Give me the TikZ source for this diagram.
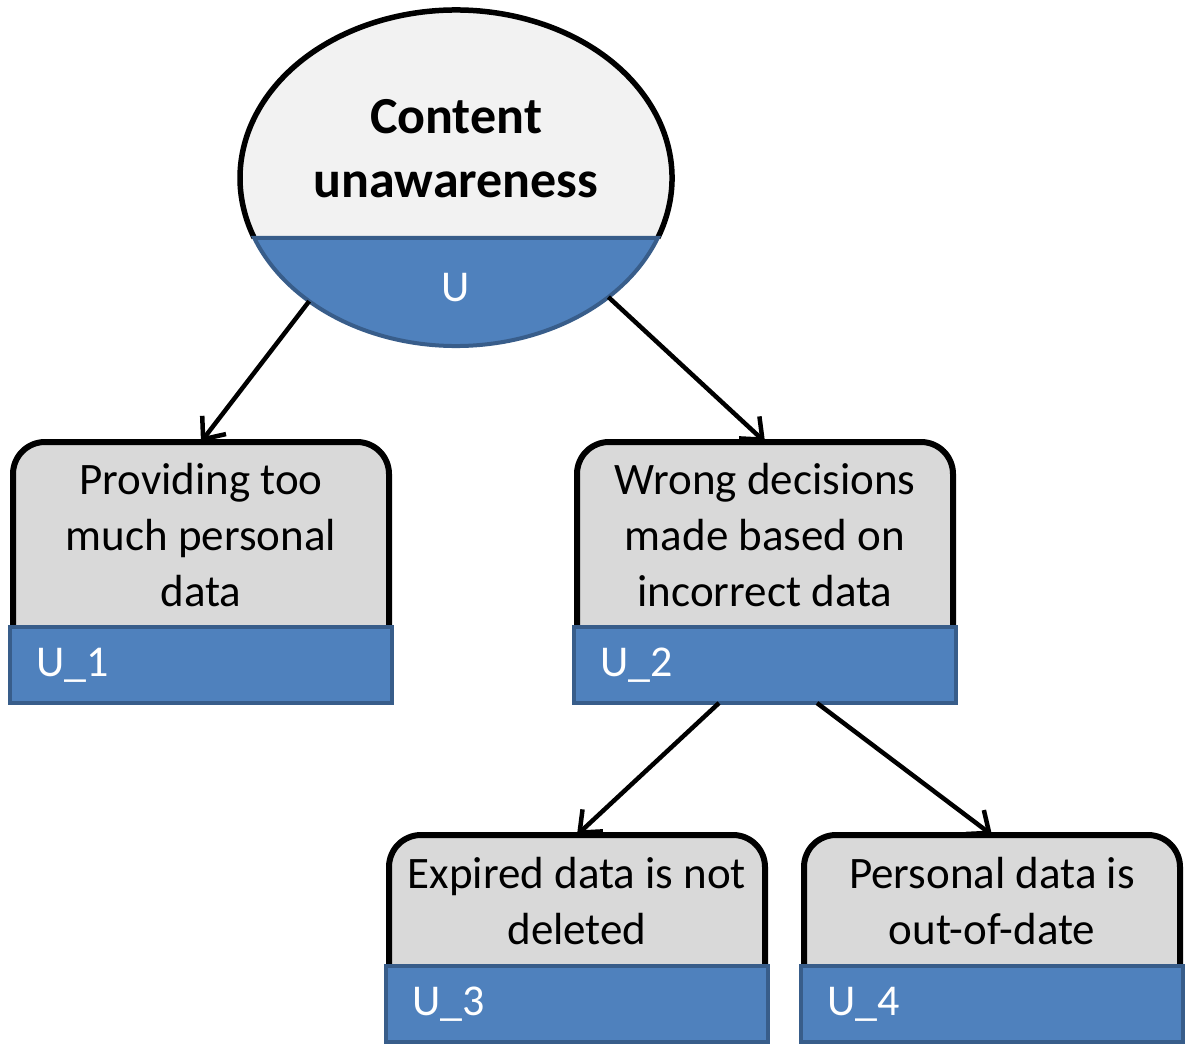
\documentclass[tikz,border=0pt]{standalone}
\usepackage{fontspec}
\setmainfont{Carlito}
\usetikzlibrary{arrows.meta,shapes.geometric,calc}
\pgfdeclarelayer{background}
\pgfsetlayers{background,main}
\definecolor{ublue}{HTML}{4F81BD}
\definecolor{udark}{HTML}{385D8A}
\definecolor{boxgrey}{HTML}{D9D9D9}
\definecolor{ellgrey}{HTML}{F2F2F2}
\begin{document}
\begin{tikzpicture}[x=1pt,y=1pt,
  gbox/.style={minimum width=376, inner sep=0, outer sep=0, align=center, font=\fontsize{45}{56}\selectfont},
  bar/.style={minimum width=382, minimum height=76, inner sep=0, outer sep=0, fill=ublue, draw=udark, line width=4},
  lbl/.style={text=white, font=\fontsize{44}{53}\selectfont, inner sep=0, outer sep=0},
  shapeline/.style={fill=boxgrey, draw=black, line width=6, rounded corners=32},
  arr/.style={line width=4.5pt, black, -{Straight Barb[length=18pt,width=30pt,line width=4.5pt]}}]
\useasboundingbox (0,0) rectangle (1186,-1046);

% ellipse
\node[ellipse, minimum width=432, minimum height=336, inner sep=0, outer sep=0] (ell) at (456,-178) {};
\fill[ellgrey] (ell.center) ellipse[x radius=216, y radius=168];
\draw[black, line width=5.5] ([shift={(-20.92:216 and 168)}]ell.center) arc[start angle=-20.92, end angle=200.92, x radius=216, y radius=168];
\filldraw[fill=ublue, draw=udark, line width=4] ([shift={(-20.92:216 and 168)}]ell.center) arc[start angle=-20.92, end angle=-159.08, x radius=216, y radius=168] -- cycle;
\node[font=\bfseries\fontsize{52}{64}\selectfont, align=center, inner sep=0] (ttl) at ([yshift=29]ell.center) {Content\\unawareness};
\node[lbl] (ulab) at ([yshift=-110]ell.center) {U};

% boxes
\node[gbox, minimum height=186] (b1) at (201,-535) {Providing too\\much personal\\data};
\node[gbox, minimum height=186] (b2) at (765,-535) {Wrong decisions\\made based on\\incorrect data};
\node[gbox, minimum height=132] (b3) at (577,-901) {Expired data is not\\deleted};
\node[gbox, minimum height=132] (b4) at (992,-901) {Personal data is\\out-of-date};

\begin{pgfonlayer}{background}
\foreach \b in {b1,b2,b3,b4}
  \filldraw[shapeline] (\b.south west) -- (\b.north west) -- (\b.north east) -- (\b.south east);
\end{pgfonlayer}

\node[bar, anchor=north] (b1bar) at ([yshift=1]b1.south) {};
\node[bar, anchor=north] (b2bar) at ([yshift=1]b2.south) {};
\node[bar, anchor=north] (b3bar) at ([yshift=1]b3.south) {};
\node[bar, anchor=north] (b4bar) at ([yshift=1]b4.south) {};

\node[lbl, anchor=west] (l1) at ([xshift=26]b1bar.west) {U\_1};
\node[lbl, anchor=west] (l2) at ([xshift=26]b2bar.west) {U\_2};
\node[lbl, anchor=west] (l3) at ([xshift=26]b3bar.west) {U\_3};
\node[lbl, anchor=west] (l4) at ([xshift=26]b4bar.west) {U\_4};

% connectors
\draw[arr] (ell.-140) -- (b1.north);
\draw[arr] (ell.-38) -- (b2.north);
\draw[arr] ([xshift=-46]b2bar.south) -- (b3.north);
\draw[arr] ([xshift=52]b2bar.south) -- (b4.north);
\end{tikzpicture}
\end{document}
